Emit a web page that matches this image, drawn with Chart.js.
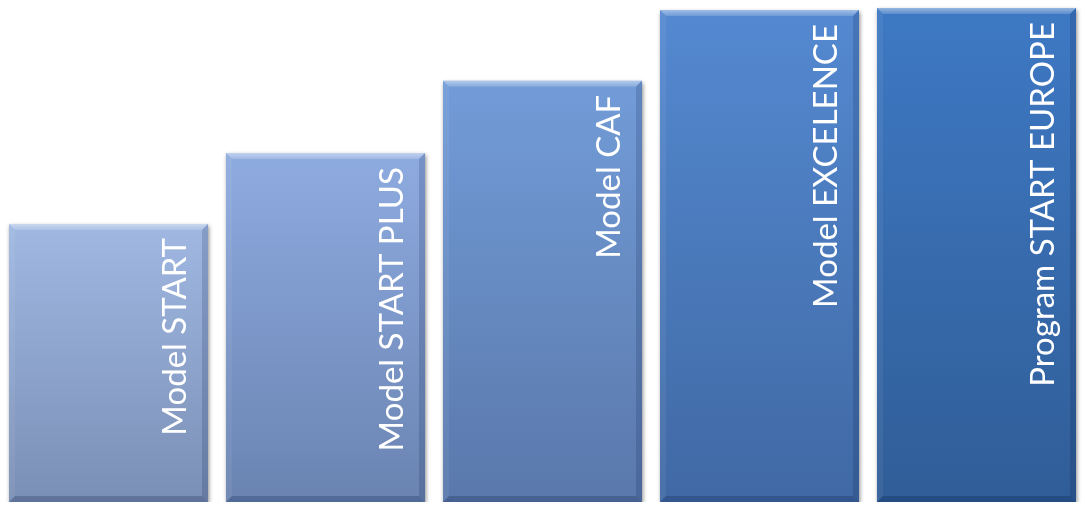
<!DOCTYPE html>
<html>
<head>
<meta charset="utf-8">
<script src="https://cdn.jsdelivr.net/npm/chart.js@4/dist/chart.umd.min.js"></script>
<style>
html,body{margin:0;padding:0;background:#fff;}
#wrap{width:1085px;height:505px;position:relative;}
</style>
</head>
<body>
<div id="wrap"><canvas id="c" width="1085" height="505"></canvas></div>
<script>
const categories = ["Model START", "Model START PLUS", "Model CAF", "Model EXCELENCE", "Program START EUROPE"];
const levels = [55.4, 69.5, 83.9, 98.0, 98.4];
const topColors = ["#a0b8e2", "#8eabe0", "#729cd8", "#5489d1", "#3e79c4"];
const bottomColors = ["#7a8fb5", "#6a83b1", "#5a78ab", "#4069a4", "#305d97"];

function barGradient(ctx) {
  const chart = ctx.chart;
  const i = ctx.dataIndex;
  const ys = chart.scales && chart.scales.y;
  if (!chart.chartArea || !ys || ctx.type !== 'data') return topColors[i];
  const top = ys.getPixelForValue(levels[i]);
  const bottom = ys.getPixelForValue(0);
  if (!isFinite(top) || !isFinite(bottom)) return topColors[i];
  const g = chart.ctx.createLinearGradient(0, top, 0, bottom);
  g.addColorStop(0, topColors[i]);
  g.addColorStop(1, bottomColors[i]);
  return g;
}

const shadowPlugin = {
  id: 'shadow',
  beforeDatasetDraw(chart) {
    const c = chart.ctx;
    c.save();
    c.shadowColor = 'rgba(0,0,0,0.45)';
    c.shadowBlur = 4;
    c.shadowOffsetX = 1;
    c.shadowOffsetY = 2;
  },
  afterDatasetDraw(chart) {
    chart.ctx.restore();
  }
};

const bevelPlugin = {
  id: 'bevel',
  afterDatasetsDraw(chart) {
    const c = chart.ctx;
    const meta = chart.getDatasetMeta(0);
    meta.data.forEach((bar, i) => {
      const p = bar.getProps(['x', 'y', 'base', 'width'], true);
      const l = p.x - p.width / 2, r = p.x + p.width / 2, t = p.y, b = p.base;
      const d = 6;
      c.save();
      c.beginPath();
      c.moveTo(l, t); c.lineTo(r, t); c.lineTo(r - d, t + d); c.lineTo(l + d, t + d); c.closePath();
      const gt = c.createLinearGradient(0, t, 0, t + d);
      gt.addColorStop(0, 'rgba(255,255,255,0.45)');
      gt.addColorStop(1, 'rgba(255,255,255,0.15)');
      c.fillStyle = gt; c.fill();
      c.beginPath();
      c.moveTo(l, t); c.lineTo(l + d, t + d); c.lineTo(l + d, b - d); c.lineTo(l, b); c.closePath();
      c.fillStyle = 'rgba(255,255,255,0.06)'; c.fill();
      c.beginPath();
      c.moveTo(r, t); c.lineTo(r, b); c.lineTo(r - d, b - d); c.lineTo(r - d, t + d); c.closePath();
      c.fillStyle = 'rgba(0,20,60,0.16)'; c.fill();
      c.beginPath();
      c.moveTo(l, b); c.lineTo(r, b); c.lineTo(r - d, b - d); c.lineTo(l + d, b - d); c.closePath();
      c.fillStyle = 'rgba(0,20,60,0.22)'; c.fill();
      c.translate(r - 22, t + 14);
      c.rotate(-Math.PI / 2);
      c.fillStyle = '#ffffff';
      c.font = '33px Lato, "Open Sans", sans-serif';
      c.textAlign = 'right';
      c.textBaseline = 'alphabetic';
      c.fillText(chart.data.labels[i], 0, 0);
      c.restore();
    });
  }
};

new Chart(document.getElementById('c'), {
  type: 'bar',
  data: {
    labels: categories,
    datasets: [{
      data: levels,
      backgroundColor: barGradient,
      borderWidth: 0,
      barPercentage: 0.917,
      categoryPercentage: 1.0
    }]
  },
  options: {
    responsive: false,
    animation: false,
    layout: { padding: { left: 0, right: 0, top: 0, bottom: 3 } },
    plugins: { legend: { display: false }, tooltip: { enabled: false } },
    scales: {
      x: { display: false },
      y: { display: false, min: 0, max: 100 }
    }
  },
  plugins: [shadowPlugin, bevelPlugin]
});
</script>
</body>
</html>
